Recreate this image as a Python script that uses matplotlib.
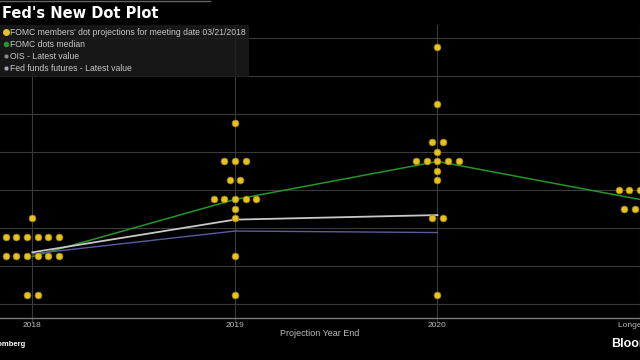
import numpy as np
import matplotlib.pyplot as plt
from matplotlib.lines import Line2D

plt.rcParams['font.family'] = ['Liberation Sans', 'DejaVu Sans']

years = ["2018", "2019", "2020", "Longer Run"]

# (rate midpoint, number of participants)
dots_2018 = [(2.625, 1), (2.375, 6), (2.125, 6), (1.625, 2)]
dots_2019 = [(3.875, 1), (3.375, 3), (3.125, 2), (2.875, 5), (2.75, 1),
             (2.625, 1), (2.125, 1), (1.625, 1)]
dots_2020 = [(4.875, 1), (4.125, 1), (3.625, 2), (3.5, 1), (3.375, 5),
             (3.25, 1), (3.125, 1), (2.625, 2), (1.625, 1)]
dots_longer = [(3.0, 5), (2.75, 4)]

median = [2.125, 2.875, 3.375, 2.875]
ois = [2.18, 2.61, 2.67]
ff_futures = [2.16, 2.46, 2.44]

dot_color = '#e8c21c'
step = 0.0525  # horizontal spacing between dots in one row

fig = plt.figure(figsize=(6.4, 3.6), dpi=100, facecolor='black')
ax = fig.add_axes([0, 42 / 360, 1, 293 / 360])
ax.set_facecolor('black')

# dots
xs, ys = [], []
for i, col in enumerate([dots_2018, dots_2019, dots_2020, dots_longer]):
    for val, n in col:
        offs = (np.arange(n) - (n - 1) / 2) * step
        xs.extend(i + offs)
        ys.extend([val] * n)
ax.scatter(xs, ys, s=24, color=dot_color, edgecolor='#9a7f10', linewidth=0.5, zorder=4)

x = np.arange(len(years))
ax.plot(x, median, color='#23962a', lw=1.1, zorder=3)
ax.plot(x[:3], ois, color='#c8c8c8', lw=1.3, zorder=3)
ax.plot(x[:3], ff_futures, color='#5c5c9c', lw=1.0, zorder=3)

ax.set_xlim(-0.160, 2.977)
ax.set_ylim(1.316, 5.17)
ax.set_yticks(np.arange(1.5, 5.01, 0.5))
ax.set_xticks(x)
ax.set_xticklabels(years)
ax.grid(True, color='#3a3a3a', lw=0.8)
ax.set_axisbelow(True)
ax.tick_params(axis='y', length=0, labelleft=False)
ax.tick_params(axis='x', length=3, color='#3a3a3a', labelsize=6, labelcolor='#bbbbbb', pad=0)
for s in ['top', 'right', 'left']:
    ax.spines[s].set_visible(False)
ax.spines['bottom'].set_color('#7a7a7a')
ax.spines['bottom'].set_linewidth(1.0)
ax.set_xlabel('Projection Year End', fontsize=6.5, color='#bbbbbb', labelpad=0)

handles = [
    Line2D([], [], ls='none', marker='o', ms=4, color=dot_color),
    Line2D([], [], ls='none', marker='o', ms=3, color='#23962a'),
    Line2D([], [], ls='none', marker='o', ms=2, color='#8a8a8a'),
    Line2D([], [], ls='none', marker='o', ms=2, color='#a8a8c0'),
]
labels = ["FOMC members' dot projections for meeting date 03/21/2018",
          "FOMC dots median", "OIS - Latest value",
          "Fed funds futures - Latest value"]
leg = ax.legend(handles, labels, loc='upper left', bbox_to_anchor=(0, 1),
                borderaxespad=0, fontsize=6.2, labelcolor='#c8c8c8',
                facecolor='#1c1c1c', edgecolor='none', framealpha=0.85,
                fancybox=False, handlelength=0.6, handletextpad=0.2,
                labelspacing=0.35, borderpad=0.4)
leg.set_zorder(6)

fig.text(2 / 640, 1 - 14 / 360, "Fed's New Dot Plot", fontsize=10.5,
         weight='bold', color='white', va='center', family='DejaVu Sans')
fig.add_artist(Line2D([0, 210 / 640], [1 - 1 / 360] * 2, color='#666666', lw=1))
fig.text(611 / 640, 1 - 344 / 360, 'Bloomberg', fontsize=9, weight='bold',
         color='white', va='center')
fig.text(26 / 640, 1 - 345 / 360, 'Bloomberg', fontsize=5.5, weight='bold',
         color='white', va='center', ha='right')

fig.savefig('out.png', dpi=100, facecolor='black')
